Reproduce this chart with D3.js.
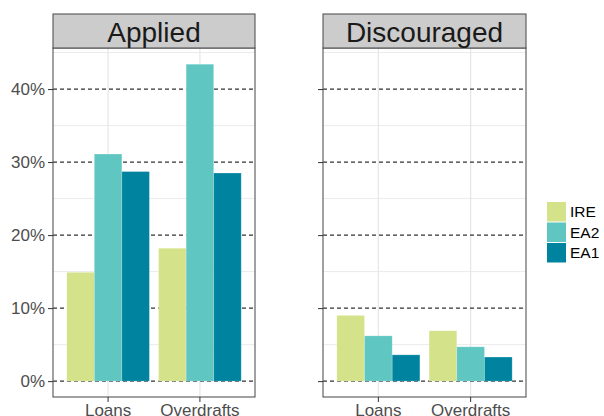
<!DOCTYPE html>
<html>
<head>
<meta charset="utf-8">
<script src="https://cdn.jsdelivr.net/npm/d3@7"></script>
<style>
  body { margin: 0; background: #fff; }
  text { font-family: "Liberation Sans", Arial, sans-serif; }
</style>
</head>
<body>
<div id="chart"></div>
<script>
// data
const panels = ["Applied", "Discouraged"];
const categories = ["Loans", "Overdrafts"];
const series = ["IRE", "EA2", "EA1"];
const colors = ["#d4e28a", "#5fc6c2", "#00839f"];
// values per panel: [category][series]
const applied = [
  [0.149, 0.311, 0.287],
  [0.182, 0.434, 0.285]
];
const discouraged = [
  [0.090, 0.062, 0.036],
  [0.069, 0.047, 0.033]
];
const yTicks = [0, 0.1, 0.2, 0.3, 0.4];
const yMinor = [0.05, 0.15, 0.25, 0.35, 0.45];

const W = 604, H = 416;
const panelTop = 48, panelBottom = 397, stripTop = 14;
const panelX = [[53, 255], [323, 526]];

const svg = d3.select("#chart").append("svg")
  .attr("width", W).attr("height", H);

// shared y scale, ggplot style expansion
const yMax = 0.4345, pad = yMax * 0.05;
const y = d3.scaleLinear().domain([-pad, yMax + pad]).range([panelBottom, panelTop]);
const color = d3.scaleOrdinal().domain(series).range(colors);

const data = [applied, discouraged];

panels.forEach((name, pi) => {
  const [x0, x1] = panelX[pi];
  const x = d3.scaleBand().domain(categories).range([x0, x1])
    .paddingInner(0.1).paddingOuter(0.15);
  const xSub = d3.scaleBand().domain(series).range([0, x.bandwidth()]);
  const g = svg.append("g");

  // minor grid
  g.selectAll(".minor").data(yMinor).join("line")
    .attr("x1", x0).attr("x2", x1)
    .attr("y1", d => y(d)).attr("y2", d => y(d))
    .attr("stroke", "#ebebeb").attr("stroke-width", 1);
  // vertical grid
  g.selectAll(".vgrid").data(categories).join("line")
    .attr("x1", d => x(d) + x.bandwidth() / 2).attr("x2", d => x(d) + x.bandwidth() / 2)
    .attr("y1", panelTop).attr("y2", panelBottom)
    .attr("stroke", "#e6e6e6").attr("stroke-width", 1.2);
  // dashed reference lines
  g.selectAll(".major").data(yTicks).join("line")
    .attr("x1", x0).attr("x2", x1)
    .attr("y1", d => y(d)).attr("y2", d => y(d))
    .attr("stroke", "#333").attr("stroke-width", 1.2)
    .attr("stroke-dasharray", "4,3");

  // bars
  g.selectAll("g.cat").data(data[pi]).join("g")
    .attr("transform", (d, i) => `translate(${x(categories[i])},0)`)
    .selectAll("rect").data(d => d.map((v, j) => ({ key: series[j], value: v })))
    .join("rect")
    .attr("x", d => xSub(d.key))
    .attr("width", xSub.bandwidth())
    .attr("y", d => y(d.value))
    .attr("height", d => y(0) - y(d.value))
    .attr("fill", d => color(d.key))
    .attr("stroke", "#fff").attr("stroke-opacity", 0.25).attr("stroke-width", 0.8);

  // panel border
  g.append("rect")
    .attr("x", x0).attr("y", panelTop)
    .attr("width", x1 - x0).attr("height", panelBottom - panelTop)
    .attr("fill", "none").attr("stroke", "#555").attr("stroke-width", 1.1);

  // strip
  g.append("rect")
    .attr("x", x0).attr("y", stripTop)
    .attr("width", x1 - x0).attr("height", panelTop - stripTop)
    .attr("fill", "#cccccc").attr("stroke", "#555").attr("stroke-width", 1.1);
  g.append("text")
    .attr("x", (x0 + x1) / 2).attr("y", stripTop + 28)
    .attr("text-anchor", "middle")
    .attr("font-size", 28).attr("fill", "#1a1a1a")
    .text(name);

  // x axis
  const xAxis = g.append("g")
    .attr("transform", `translate(0,${panelBottom})`)
    .call(d3.axisBottom(x).tickSize(5).tickSizeOuter(0));
  xAxis.select(".domain").remove();
  xAxis.selectAll("line").attr("stroke", "#333");
  xAxis.selectAll("text").attr("font-size", 17).attr("fill", "#4d4d4d")
    .attr("dy", null).attr("y", 19);

  // y axis
  const yAxis = g.append("g")
    .attr("transform", `translate(${x0},0)`)
    .call(d3.axisLeft(y).tickValues(yTicks).tickFormat(d3.format(".0%")).tickSize(5).tickSizeOuter(0));
  yAxis.select(".domain").remove();
  yAxis.selectAll("line").attr("stroke", "#333");
  yAxis.selectAll("text").attr("font-size", 17).attr("fill", "#4d4d4d").attr("x", -8);
  if (pi === 1) yAxis.selectAll("text").remove();
});

// legend
const legend = svg.append("g").attr("transform", "translate(547,202)");
series.forEach((s, i) => {
  legend.append("rect")
    .attr("x", 0).attr("y", i * 20.5)
    .attr("width", 19).attr("height", 19.5)
    .attr("fill", color(s));
  legend.append("text")
    .attr("x", 23).attr("y", i * 20.5 + 10)
    .attr("dy", "0.35em")
    .attr("font-size", 15.5).attr("fill", "#000")
    .text(s);
});
</script>
</body>
</html>
